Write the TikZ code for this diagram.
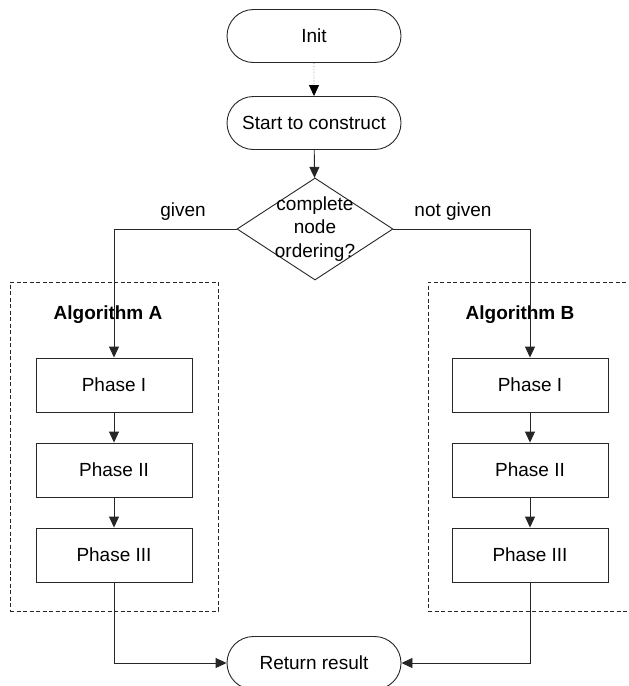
\documentclass[tikz,border=0pt]{standalone}
\usepackage{fontspec}
\setmainfont{Liberation Sans}
\usetikzlibrary{shapes.misc,shapes.geometric,arrows.meta}
\tikzset{
  base/.style={draw=black!85, line width=0.9pt, font=\fontsize{19}{23.5}\selectfont, align=center, inner sep=0pt},
  term/.style={base, rounded rectangle, minimum width=174, minimum height=53},
  phase/.style={base, rectangle, minimum width=156, minimum height=54},
  dec/.style={draw=black!85, line width=0.9pt, diamond, minimum width=156, minimum height=102, inner sep=0pt},
  lbl/.style={font=\fontsize{19}{23.5}\selectfont, align=center, inner sep=0pt},
  alg/.style={font=\fontsize{19}{23.5}\selectfont\bfseries, inner sep=0pt},
  dashbox/.style={draw=black!85, line width=0.9pt, dash pattern=on 4pt off 2.5pt, rectangle, inner sep=0pt},
  arr/.style={draw=black!85, line width=0.9pt, -{Triangle[length=11pt,width=10pt]}},
  dotarr/.style={draw=black!45, line width=0.9pt, dotted, -{Triangle[length=11pt,width=10pt,color=black]}}
}
\begin{document}
\begin{tikzpicture}[x=1pt,y=-1pt]
\useasboundingbox[fill=white] (0,0) rectangle (629,686);
% dashed algorithm boxes
\node[dashbox, minimum width=208, minimum height=329] (boxA) at (114,446.5) {};
\node[dashbox, minimum width=240, minimum height=329] (boxB) at (548,446.5) {};
% terminals
\node[term] (init) at (314,36) {Init};
\node[term] (start) at (314,123) {Start to construct};
% decision
\node[dec] (dec) at (315,229) {};
\node[lbl] (dectext) at (315,229) {complete\\node\\ordering?};
\node[lbl] (given) at (183,212) {given};
\node[lbl] (notgiven) at (453,212) {not given};
% algorithm labels
\node[alg] (algA) at (108,315) {Algorithm A};
\node[alg] (algB) at (520,315) {Algorithm B};
% phases
\node[phase] (a1) at (114,385) {Phase I};
\node[phase] (a2) at (114,470) {Phase II};
\node[phase] (a3) at (114,555) {Phase III};
\node[phase] (b1) at (530,385) {Phase I};
\node[phase] (b2) at (530,470) {Phase II};
\node[phase] (b3) at (530,555) {Phase III};
% result
\node[term] (ret) at (314,663) {Return result};
% connectors
\draw[dotarr] (init) -- (start);
\draw[arr] (start) -- (dec);
\draw[arr] (dec.west) -| (a1.north);
\draw[arr] (dec.east) -| (b1.north);
\draw[arr] (a1) -- (a2);
\draw[arr] (a2) -- (a3);
\draw[arr] (b1) -- (b2);
\draw[arr] (b2) -- (b3);
\draw[arr] (a3.south) |- (ret.west);
\draw[arr] (b3.south) |- (ret.east);
\end{tikzpicture}
\end{document}
